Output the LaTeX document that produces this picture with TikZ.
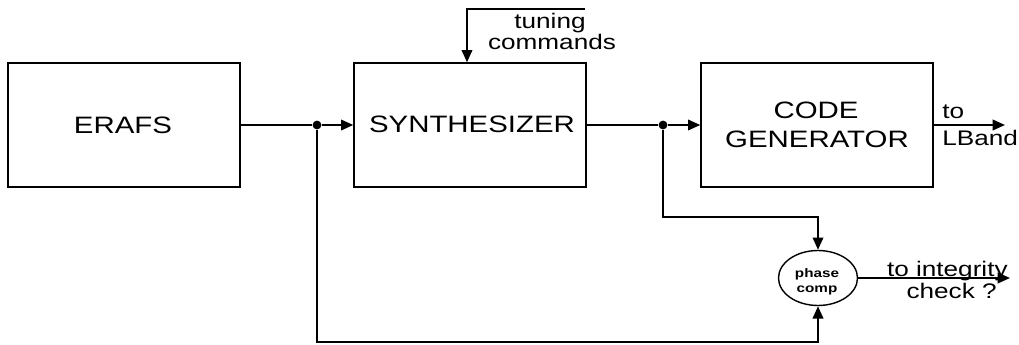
\documentclass[tikz,border=0pt]{standalone}
\usepackage{fontspec}
\setmainfont[FakeStretch=1.24]{Liberation Sans}
\usetikzlibrary{arrows.meta,shapes.geometric}
\begin{document}
\begin{tikzpicture}[x=0.02cm,y=-0.02cm,
  blk/.style={draw,line width=0.8pt,minimum width=232*0.02cm,minimum height=124*0.02cm,inner sep=0pt},
  big/.style={font=\fontsize{13.5}{16}\selectfont,inner sep=0pt},
  conn/.style={line width=1.1pt,-{Triangle[length=7pt,width=6pt]}},
  wire/.style={line width=1.1pt},
  dot/.style={circle,fill,inner sep=0pt,minimum size=5pt},
  lbl/.style={font=\fontsize{12}{14}\selectfont,inner sep=0pt},
  sml/.style={font=\fontsize{7}{8}\selectfont\bfseries,inner sep=0pt}]
\useasboundingbox (0,0) rectangle (1019,345);
\node[blk] (erafs) at (124,125) {};
\node[blk] (synth) at (470,125) {};
\node[blk] (code) at (817,125) {};
\node[draw,ellipse,line width=0.8pt,minimum width=79*0.02cm,minimum height=55*0.02cm,inner sep=0pt] (pc) at (818,278) {};
\node[big,anchor=base] (erafsT) at (123,133) {ERAFS};
\node[big,anchor=base] (synthT) at (472,132) {SYNTHESIZER};
\node[big,anchor=base] (codeT1) at (816,118) {CODE};
\node[big,anchor=base] (codeT2) at (817,147) {GENERATOR};
\node[sml,anchor=base] (pcT1) at (817,277) {phase};
\node[sml,anchor=base] (pcT2) at (817,292) {comp};
\node[dot] (j1) at (317,125) {};
\node[dot] (j2) at (663,125) {};
\coordinate (tstart) at (585,9);
\coordinate (tcorner) at (467,9);
\coordinate (lb) at (1005,125);
\coordinate (ic) at (1010,278);
\coordinate (c2) at (663,217);
\coordinate (c3) at (818,217);
\coordinate (c4) at (317,342);
\coordinate (c5) at (818,342);
\draw[wire] (erafs.east) -- (j1);
\draw[conn] (j1) -- (synth.west);
\draw[wire] (synth.east) -- (j2);
\draw[conn] (j2) -- (code.west);
\draw[conn] (code.east) -- (lb);
\draw[conn] (tstart) -- (tcorner) -- (tcorner |- synth.north);
\draw[conn] (j2) -- (c2) -- (c3) -- (pc.north);
\draw[conn] (j1) -- (c4) -- (c5) -- (pc.south);
\draw[conn] (pc.east) -- (ic);
\node[lbl,anchor=base] (t1) at (550,28) {tuning};
\node[lbl,anchor=base] (t2) at (552,49) {commands};
\node[lbl,anchor=base west] (l1) at (942,118) {to};
\node[lbl,anchor=base west] (l2) at (942,145) {LBand};
\node[lbl,anchor=base east] (i1) at (1008,276) {to integrity};
\node[lbl,anchor=base east] (i2) at (997,298) {check ?};
\end{tikzpicture}
\end{document}
